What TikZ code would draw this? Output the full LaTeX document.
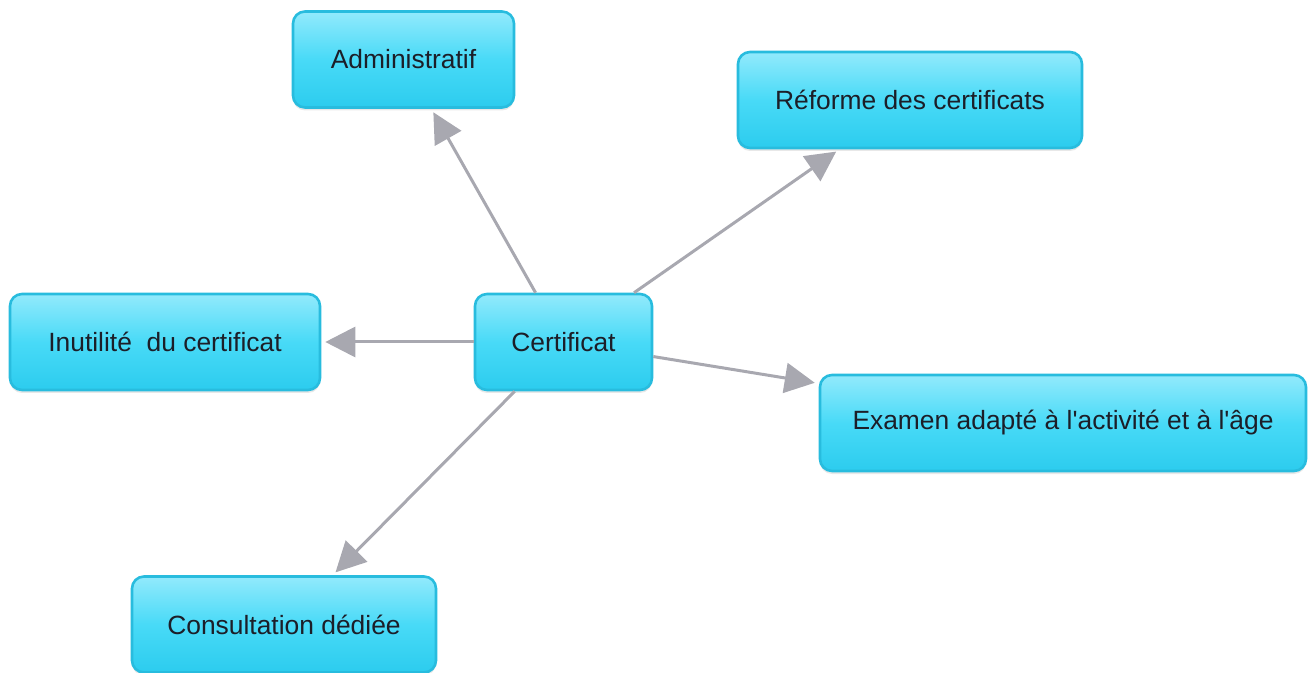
\documentclass[tikz,border=0pt]{standalone}
\usepackage{fontspec}
\setmainfont{Liberation Sans}
\usetikzlibrary{arrows.meta,shadows}

\definecolor{boxtop}{RGB}{146,234,252}
\definecolor{boxmid}{RGB}{72,218,247}
\definecolor{boxbot}{RGB}{44,204,238}
\definecolor{boxline}{RGB}{40,188,222}
\definecolor{arrowgray}{RGB}{168,168,176}
\definecolor{textdark}{RGB}{28,30,40}

\begin{document}
\begin{tikzpicture}[x=0.5pt,y=-0.5pt,
   topic/.style={rectangle,rounded corners=6pt,draw=boxline,line width=1.3pt,
      top color=boxtop,bottom color=boxbot,middle color=boxmid,
      minimum height=48pt,text=textdark,font=\fontsize{13.2}{15}\selectfont,
      drop shadow={opacity=0.18,shadow xshift=0pt,shadow yshift=-1.5pt}},
   link/.style={-{Triangle[length=15pt,width=15pt]},color=arrowgray,
      line width=1.5pt,shorten >=2pt}]
   \useasboundingbox (0,0) rectangle (1311,673);

   \node[topic,minimum width=177*0.5pt] (cert)  at (563.5,342) {Certificat};
   \node[topic,minimum width=221*0.5pt] (admin) at (403.5,59.5) {Administratif};
   \node[topic,minimum width=344*0.5pt] (reforme) at (910,100) {Réforme des certificats};
   \node[topic,minimum width=310*0.5pt] (inutile) at (165,342) {Inutilité\ \ du certificat};
   \node[topic,minimum width=486*0.5pt] (examen) at (1063,423) {Examen adapté à l\textquotesingle activité et à l\textquotesingle âge};
   \node[topic,minimum width=304*0.5pt] (consult) at (284,624.5) {Consultation dédiée};

   \path[link] (cert) edge (admin);
   \path[link] (cert) edge (reforme);
   \path[link] (cert) edge (inutile);
   \path[link] (cert) edge (examen);
   \path[link] (cert) edge (consult);
\end{tikzpicture}
\end{document}
